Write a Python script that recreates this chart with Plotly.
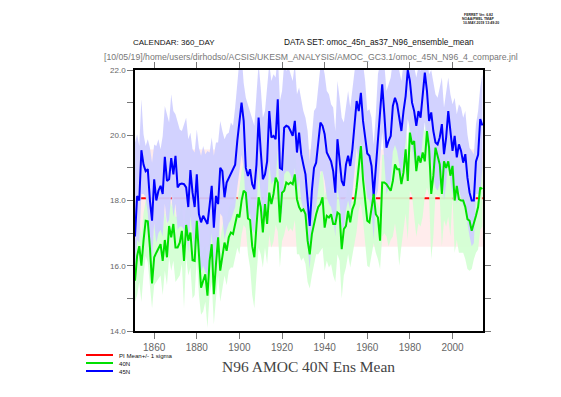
import plotly.graph_objects as go

years = list(range(1851, 2015))

blue_45n = [
    16.9, 18.14, 18.0, 19.54, 19.1, 18.9, 18.96, 18.0, 17.38, 18.65,
    18.0, 18.3, 18.45, 18.2, 19.34, 18.6, 18.65, 19.3, 18.8, 19.37,
    18.4, 18.5, 18.52, 18.5, 18.4, 17.8, 18.93, 18.24, 17.8, 18.8,
    17.58, 17.33, 17.53, 17.38, 17.28, 17.84, 18.45, 17.17, 18.14, 17.89,
    19.0, 18.9, 18.1, 18.55, 18.7, 18.8, 19.0, 19.1, 19.83, 20.39,
    21.0, 20.44, 19.0, 18.75, 18.96, 18.5, 18.35, 19.1, 20.54, 19.52,
    18.65, 18.8, 19.2, 20.74, 19.93, 19.98, 19.88, 21.1, 19.0, 18.96,
    20.23, 20.29, 20.26, 20.13, 19.98, 20.44, 19.47, 20.08, 19.42, 19.1,
    18.8, 18.0, 17.22, 18.3, 19.0, 19.16, 19.72, 20.39, 20.29, 20.03,
    19.47, 19.32, 19.2, 18.9, 18.24, 19.88, 19.32, 18.6, 18.45, 19.1,
    19.37, 19.06, 19.57, 20.44, 21.05, 20.74, 21.3, 20.44, 19.9, 19.44,
    19.37, 19.06, 18.14, 19.0, 20.03, 20.74, 21.56, 20.64, 19.62, 19.83,
    19.98, 20.9, 21.15, 20.95, 20.54, 20.13, 20.74, 21.2, 22.0, 21.66,
    21.0, 20.74, 20.29, 20.74, 20.54, 21.36, 21.92, 21.36, 20.44, 20.7,
    20.13, 19.78, 19.72, 19.93, 20.34, 19.42, 19.93, 20.74, 20.03, 19.52,
    19.98, 19.32, 19.72, 19.52, 19.16, 19.42, 18.7, 18.24, 18.0, 18.0,
    19.2, 19.4, 20.5, 20.3,
]

blue_hi = [
    19.78, 20.03, 19.67, 21.1, 20.03, 19.67, 19.88, 19.62, 19.16, 19.72,
    19.67, 19.88, 19.57, 19.98, 20.9, 20.64, 20.39, 21.26, 20.74, 20.64,
    20.39, 20.18, 20.13, 20.34, 20.54, 19.88, 20.08, 19.57, 19.47, 20.18,
    19.62, 19.37, 19.67, 19.42, 19.52, 19.47, 19.93, 19.37, 19.78, 19.78,
    20.44, 20.13, 19.88, 20.03, 20.08, 20.39, 20.29, 20.85, 21.46, 22.3,
    22.5, 21.6, 21.15, 20.95, 20.74, 20.54, 20.29, 21.26, 22.2, 21.46,
    20.54, 20.74, 21.46, 22.2, 21.66, 21.87, 21.77, 22.5, 21.05, 21.36,
    22.2, 21.97, 22.1, 21.87, 21.66, 22.2, 21.26, 21.46, 21.05, 20.74,
    20.54, 20.13, 19.2, 20.03, 20.74, 20.85, 21.56, 22.1, 22.2, 21.87,
    21.36, 21.26, 20.95, 20.85, 20.13, 21.66, 21.15, 20.54, 20.39, 20.95,
    21.36, 20.85, 21.46, 22.2, 22.5, 22.3, 22.6, 22.2, 21.66, 20.74,
    20.8, 20.54, 19.72, 20.64, 21.87, 22.2, 22.6, 22.2, 21.36, 21.56,
    21.77, 22.3, 22.4, 22.3, 21.97, 21.66, 22.2, 22.4, 22.8, 22.6,
    22.3, 22.1, 21.77, 22.1, 21.97, 22.5, 22.8, 22.5, 21.87, 22.0,
    21.56, 21.26, 21.15, 21.46, 21.77, 20.85, 21.26, 21.77, 21.26, 20.95,
    21.15, 20.64, 20.95, 20.85, 20.54, 20.74, 20.03, 19.62, 19.52, 19.42,
    20.34, 20.74, 21.46, 21.87,
]

blue_lo = [
    15.8, 16.8, 16.7, 18.2, 18.2, 18.1, 17.6, 16.7, 16.2, 17.3,
    16.7, 17.0, 17.1, 16.9, 17.9, 17.3, 17.4, 18.2, 17.5, 17.9,
    17.1, 17.2, 17.2, 17.1, 17.1, 16.4, 17.5, 16.9, 16.4, 17.4,
    16.1, 15.8, 16.0, 15.8, 15.7, 16.3, 17.0, 15.8, 16.7, 16.5,
    17.6, 17.5, 16.8, 17.1, 17.3, 17.4, 17.6, 17.8, 18.4, 18.9,
    19.4, 19.0, 17.8, 17.4, 17.6, 17.1, 17.0, 17.7, 19.0, 18.1,
    17.3, 17.4, 17.8, 19.2, 18.5, 18.6, 18.5, 19.6, 17.6, 17.6,
    18.8, 18.9, 18.9, 18.8, 18.6, 19.0, 18.1, 18.7, 18.0, 17.7,
    17.4, 16.6, 15.9, 16.9, 17.6, 17.8, 18.3, 18.9, 18.9, 18.6,
    18.1, 17.9, 17.8, 17.5, 16.9, 18.4, 17.9, 17.2, 17.1, 17.7,
    18.0, 17.7, 18.2, 19.0, 19.6, 19.3, 19.8, 19.0, 18.5, 18.1,
    18.0, 17.7, 16.8, 18.1, 18.3, 19.3, 20.1, 19.2, 18.2, 18.4,
    18.6, 19.5, 19.7, 19.5, 19.1, 18.7, 19.3, 19.8, 20.5, 20.2,
    19.6, 19.3, 18.9, 19.3, 19.1, 19.9, 20.4, 19.9, 19.0, 19.3,
    18.7, 18.4, 18.3, 18.5, 18.9, 18.0, 18.5, 19.3, 18.6, 18.2,
    18.6, 17.9, 18.3, 18.1, 17.8, 18.0, 17.3, 16.9, 16.6, 16.7,
    18.2, 18.2, 18.2, 19.0,
]

green_40n = [
    15.54, 16.3, 16.6, 16.0, 16.77, 17.38, 17.36, 16.56, 15.46, 16.26,
    16.4, 16.56, 16.66, 16.15, 16.79, 16.26, 17.22, 16.87, 17.28, 16.56,
    16.56, 16.71, 17.07, 16.15, 17.25, 16.77, 17.02, 16.17, 16.15, 17.38,
    16.35, 15.33, 15.54, 15.74, 15.08, 16.15, 16.66, 15.13, 16.05, 16.87,
    15.85, 16.26, 16.71, 16.46, 16.87, 17.02, 16.97, 17.28, 17.58, 17.48,
    17.99, 18.3, 18.24, 17.45, 17.4, 16.6, 16.26, 17.22, 18.1, 17.8,
    17.02, 17.89, 17.28, 18.24, 17.89, 18.2, 18.7, 18.55, 17.33, 18.24,
    18.3, 18.55, 18.5, 18.55, 18.5, 18.8, 18.04, 17.8, 17.68, 17.73,
    17.58, 16.77, 16.35, 16.97, 17.33, 17.58, 17.8, 17.89, 18.1, 17.17,
    17.53, 17.48, 17.58, 17.28, 17.28, 17.63, 17.58, 16.51, 17.12, 17.22,
    17.68, 17.33, 17.73, 17.9, 18.4, 19.0, 19.67, 18.65, 18.0, 17.38,
    17.33, 17.8, 18.2, 17.58, 17.48, 16.77, 18.55, 18.55, 18.5, 18.4,
    18.3, 18.6, 19.11, 18.96, 18.96, 18.5, 18.86, 19.57, 18.6, 20.08,
    19.72, 19.82, 18.9, 19.37, 19.16, 19.47, 19.2, 20.13, 19.62, 18.2,
    18.76, 19.62, 19.37, 19.11, 18.2, 19.2, 19.0, 19.2, 18.76, 19.06,
    18.0, 18.45, 18.04, 18.0, 18.0, 17.8, 17.43, 17.38, 17.07, 17.28,
    17.53, 17.8, 18.4, 18.35,
]

green_hi = [
    16.5, 17.2, 17.5, 16.9, 17.6, 18.0, 18.2, 17.5, 16.4, 17.2,
    17.3, 17.5, 17.6, 17.1, 17.7, 17.2, 18.1, 17.8, 18.2, 17.5,
    17.5, 17.6, 18.0, 17.1, 18.1, 17.7, 17.9, 17.1, 17.1, 18.3,
    17.3, 16.3, 16.5, 16.7, 16.0, 17.1, 17.6, 16.1, 17.0, 17.8,
    16.8, 17.2, 17.6, 17.4, 17.8, 17.9, 17.9, 18.2, 18.0, 18.4,
    18.9, 19.2, 19.1, 18.4, 18.3, 17.5, 17.2, 18.1, 19.0, 18.7,
    17.9, 18.8, 18.2, 19.1, 18.8, 19.1, 19.6, 19.4, 18.2, 19.1,
    19.2, 19.4, 19.4, 19.4, 19.4, 19.7, 18.9, 18.7, 18.6, 18.6,
    18.5, 17.6, 17.2, 17.8, 18.2, 18.5, 18.7, 18.8, 19.0, 18.1,
    18.4, 18.4, 18.5, 18.2, 18.2, 18.5, 18.5, 17.4, 18.0, 18.1,
    18.6, 18.2, 17.95, 18.0, 19.3, 19.9, 20.5, 19.5, 18.9, 18.3,
    18.2, 18.7, 19.1, 18.0, 17.9, 17.7, 19.4, 19.4, 19.4, 19.3,
    19.2, 19.5, 20.0, 19.9, 19.9, 19.4, 19.8, 20.5, 19.5, 21.0,
    20.6, 20.7, 19.8, 20.3, 20.1, 20.4, 20.1, 21.0, 20.5, 19.1,
    19.7, 20.5, 20.3, 20.0, 19.1, 20.1, 19.9, 20.1, 19.7, 20.0,
    18.9, 19.3, 18.9, 18.9, 18.9, 18.7, 18.3, 18.3, 18.0, 18.1,
    17.95, 18.0, 19.3, 19.2,
]

green_lo = [
    14.9, 15.1, 15.5, 14.9, 15.7, 16.3, 16.1, 15.3, 14.7, 15.4,
    15.5, 15.6, 15.7, 15.1, 15.85, 15.4, 16.25, 15.85, 16.15, 15.5,
    15.6, 15.7, 16.05, 14.7, 16.25, 15.7, 15.95, 15.0, 15.1, 16.25,
    15.1, 14.5, 14.6, 14.9, 14.1, 15.1, 15.5, 14.2, 15.0, 15.7,
    14.9, 15.3, 15.7, 15.4, 15.85, 15.95, 15.95, 16.25, 16.55, 16.35,
    16.95, 17.25, 17.15, 16.35, 15.95, 15.1, 14.7, 15.7, 16.55, 16.35,
    15.95, 16.55, 16.05, 16.95, 16.55, 16.75, 17.25, 17.05, 15.95, 16.75,
    16.95, 17.25, 17.05, 17.15, 17.05, 17.4, 16.35, 16.35, 16.15, 16.25,
    16.05, 15.5, 15.3, 15.7, 16.05, 16.35, 16.35, 16.45, 16.55, 15.85,
    16.15, 15.95, 16.05, 15.7, 15.5, 16.35, 16.15, 15.0, 15.7, 15.95,
    16.35, 15.95, 16.35, 16.75, 17.05, 17.7, 17.9, 17.4, 16.55, 16.0,
    15.95, 16.4, 16.7, 16.4, 16.2, 15.9, 16.9, 17.0, 16.9, 16.6,
    16.8, 16.9, 17.3, 16.8, 16.0, 16.6, 17.1, 17.6, 16.8, 18.3,
    18.15, 17.6, 16.9, 17.3, 17.2, 17.5, 18.12, 18.4, 18.15, 16.2,
    16.9, 18.2, 18.15, 18.1, 16.6, 17.4, 17.2, 17.5, 16.9, 18.12,
    16.4, 16.8, 16.4, 16.4, 16.4, 16.2, 15.9, 15.85, 15.9, 16.2,
    16.4, 16.5, 17.1, 17.2,
]

pi_mean = 18.07
pi_lo = 16.58
pi_hi = 19.56
pi_years = [1850, 2016]

x_ticks = [1860, 1880, 1900, 1920, 1940, 1960, 1980, 2000]
y_ticks = [14, 15, 16, 17, 18, 19, 20, 21, 22]
y_ticktext = ["14.0", "", "16.0", "", "18.0", "", "20.0", "", "22.0"]

legend_labels = ["PI Mean+/- 1 sigma", "40N", "45N"]
legend_colors = ["#ff0000", "#00e000", "#0000ff"]

W, H = 561, 397
ML, MR, MT, MB = 127, 86, 62, 74
PW, PH = W - ML - MR, H - MT - MB


def px(x):
    return (x - ML) / PW


def py(y):
    return (H - MB - y) / PH


fig = go.Figure()

# PI mean +/- 1 sigma band
fig.add_trace(go.Scatter(x=pi_years, y=[pi_lo, pi_lo], mode="lines",
                         line=dict(width=0), hoverinfo="skip", showlegend=False))
fig.add_trace(go.Scatter(x=pi_years, y=[pi_hi, pi_hi], mode="lines", fill="tonexty",
                         fillcolor="rgb(255,236,236)", line=dict(width=0),
                         hoverinfo="skip", showlegend=False))
fig.add_trace(go.Scatter(x=pi_years, y=[pi_mean, pi_mean], mode="lines",
                         line=dict(color="#ff0000", width=2), showlegend=False))

# 40N spread band
fig.add_trace(go.Scatter(x=years, y=green_lo, mode="lines", line=dict(width=0),
                         hoverinfo="skip", showlegend=False))
fig.add_trace(go.Scatter(x=years, y=green_hi, mode="lines", fill="tonexty",
                         fillcolor="rgba(211,255,211,0.93)", line=dict(width=0),
                         hoverinfo="skip", showlegend=False))
# 45N spread band
fig.add_trace(go.Scatter(x=years, y=blue_lo, mode="lines", line=dict(width=0),
                         hoverinfo="skip", showlegend=False))
fig.add_trace(go.Scatter(x=years, y=blue_hi, mode="lines", fill="tonexty",
                         fillcolor="rgba(207,207,255,0.93)", line=dict(width=0),
                         hoverinfo="skip", showlegend=False))

fig.add_trace(go.Scatter(x=years, y=blue_45n, mode="lines",
                         line=dict(color="#0000ff", width=2), showlegend=False))
fig.add_trace(go.Scatter(x=years, y=green_40n, mode="lines",
                         line=dict(color="#00e000", width=2), showlegend=False))

axis_common = dict(showline=True, linecolor="black", linewidth=1.5, mirror="allticks",
                   ticks="outside", ticklen=6, tickcolor="#777", tickwidth=1,
                   showgrid=False, zeroline=False)

fig.update_xaxes(range=[1851, 2014.3], tickmode="array", tickvals=x_ticks,
                 ticktext=[str(v) for v in x_ticks],
                 tickfont=dict(family="Liberation Sans", size=10, color="#666"),
                 **axis_common)
fig.update_yaxes(range=[14, 22], tickmode="array", tickvals=y_ticks, ticktext=y_ticktext,
                 tickfont=dict(family="Liberation Sans", size=8, color="#666"),
                 **axis_common)

shapes = []
legend_y = [347, 355, 363]
for col, yy in zip(legend_colors, legend_y):
    shapes.append(dict(type="line", xref="paper", yref="paper", x0=px(78), x1=px(105),
                       y0=py(yy), y1=py(yy), line=dict(color=col, width=2)))

annotations = [
    dict(x=px(110), y=py(355), xref="paper", yref="paper",
         text="<br>".join(legend_labels), align="left",
         showarrow=False, xanchor="left", yanchor="middle", borderpad=0,
         font=dict(family="Liberation Sans", size=6.1, color="#111")),
]

small = dict(family="Liberation Sans", size=3.5, color="#222")
annotations += [
    dict(x=px(123), y=py(34), xref="paper", yref="paper", text="CALENDAR: 360_DAY",
         showarrow=False, xanchor="left", yanchor="middle",
         font=dict(family="Liberation Sans", size=8, color="#111")),
    dict(x=px(274), y=py(34), xref="paper", yref="paper",
         text="DATA SET: omoc_45n_as37_N96_ensemble_mean",
         showarrow=False, xanchor="left", yanchor="middle",
         font=dict(family="Liberation Sans", size=8.3, color="#111")),
    dict(x=px(302.5), y=py(49), xref="paper", yref="paper",
         text="[10/05/19]/home/users/dirhodso/ACSIS/UKESM_ANALYSIS/AMOC_GC3.1/omoc_45N_N96_4_compare.jnl",
         showarrow=False, xanchor="center", yanchor="middle",
         font=dict(family="Liberation Sans", size=8.7, color="#777")),
    dict(x=px(300.5), y=py(358), xref="paper", yref="paper", text="N96 AMOC 40N Ens Mean",
         showarrow=False, xanchor="center", yanchor="middle",
         font=dict(family="Liberation Serif", size=15.5, color="#444")),
    dict(x=px(470), y=py(6.6), xref="paper", yref="paper", text="<b>FERRET Ver. 6.82</b>",
         showarrow=False, xanchor="center", yanchor="middle", borderpad=0, font=small),
    dict(x=px(470), y=py(10.8), xref="paper", yref="paper", text="<b>NOAA/PMEL TMAP</b>",
         showarrow=False, xanchor="center", yanchor="middle", borderpad=0, font=small),
    dict(x=px(473), y=py(15.0), xref="paper", yref="paper", text="<b>10-MAY-2019 13:49:20</b>",
         showarrow=False, xanchor="center", yanchor="middle", borderpad=0, font=small),
]

fig.update_layout(width=W, height=H, margin=dict(l=ML, r=MR, t=MT, b=MB),
                  paper_bgcolor="white", plot_bgcolor="white", showlegend=False,
                  shapes=shapes, annotations=annotations)

fig.write_html("out.html")
